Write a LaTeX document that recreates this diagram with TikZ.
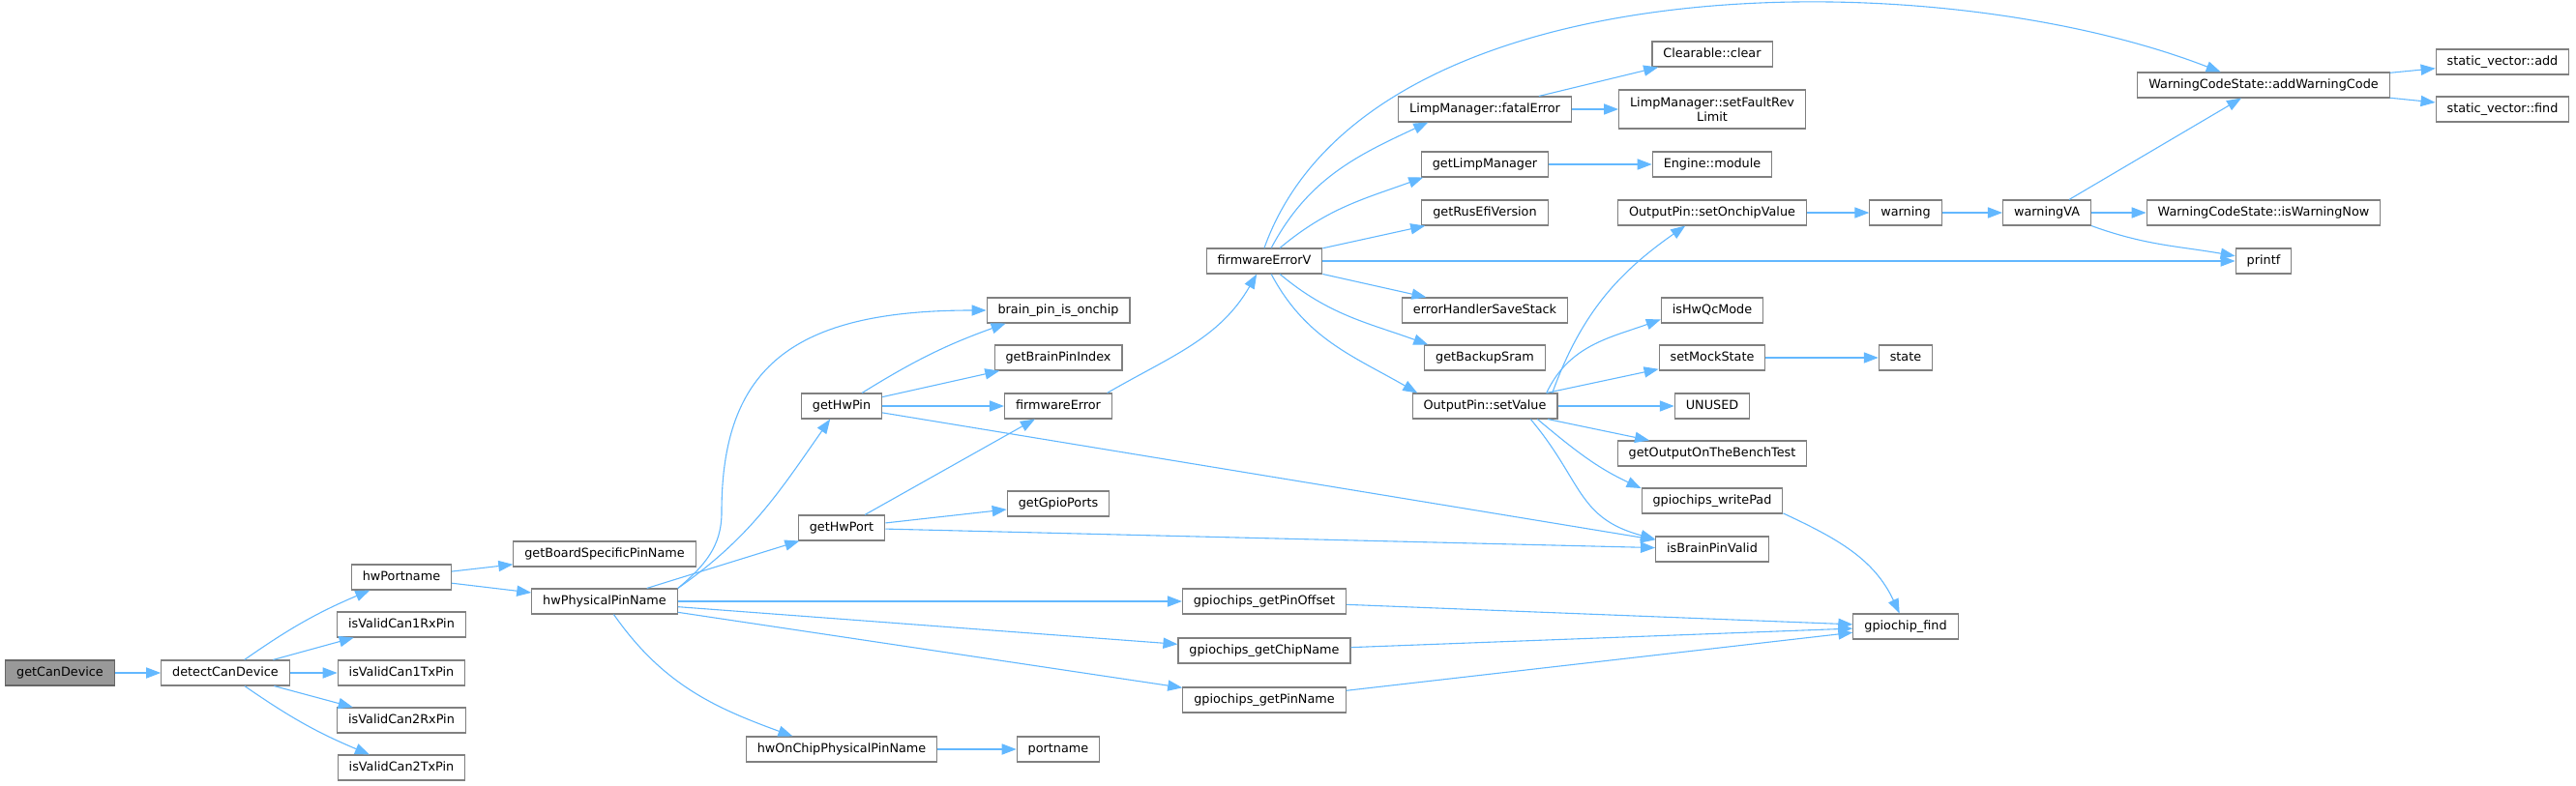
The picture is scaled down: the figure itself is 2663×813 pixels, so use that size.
\documentclass[tikz,border=0pt]{standalone}
\usepackage{fontspec}
\setmainfont{DejaVu Sans}
\usetikzlibrary{arrows.meta}
\definecolor{E}{RGB}{99,184,255}
\definecolor{D}{RGB}{102,102,102}
\definecolor{G}{RGB}{128,128,128}
\definecolor{K}{RGB}{153,153,153}
\tikzstyle{box} = [rectangle, draw=G, fill=white, line width=0.55pt,
inner xsep=5.75pt, inner ysep=0pt, minimum height=13pt,
font=\fontsize{6.4}{7.15}\selectfont]
\tikzstyle{fn} = [box, text height=4.9pt, text depth=1.3pt]
\tikzstyle{call} = [draw=E, line width=0.55pt, -{Triangle[length=7.5pt,width=5.6pt]}]

\begin{document}
\begin{tikzpicture}[x=0.5pt,y=-0.5pt]
\useasboundingbox (0,0) rectangle (2663,813);
% functions, placed by rank (x) and row (y) in pixels
\node[fn,fill=K,draw=D] (getCanDevice) at (62,696) {getCanDevice};
\foreach \n/\x/\y/\lbl in {
  detect/233/696/detectCanDevice,
  hwPortname/415/597/hwPortname,
  can1rx/415/646/isValidCan1RxPin,
  can1tx/415/696/isValidCan1TxPin,
  can2rx/415/745/isValidCan2RxPin,
  can2tx/415/794/isValidCan2TxPin,
  boardPin/625/573/getBoardSpecificPinName,
  hwPhys/625/622/hwPhysicalPinName,
  getHwPin/870/420/getHwPin,
  getHwPort/870/546/getHwPort,
  onChipName/870/775/hwOnChipPhysicalPinName,
  onchip/1094/321/brain\_pin\_is\_onchip,
  pinIndex/1094/370/getBrainPinIndex,
  fwErr/1094/420/firmwareError,
  gpioPorts/1094/521/getGpioPorts,
  portname/1094/775/portname,
  fwErrV/1307/270/firmwareErrorV,
  pinOffset/1307/622/gpiochips\_getPinOffset,
  chipName/1307/673/gpiochips\_getChipName,
  pinName/1307/724/gpiochips\_getPinName,
  fatal/1535/113/LimpManager::fatalError,
  limpMgr/1535/170/getLimpManager,
  version/1535/220/getRusEfiVersion,
  saveStack/1535/321/errorHandlerSaveStack,
  backupSram/1535/370/getBackupSram,
  setValue/1535/420/OutputPin::setValue,
  clear/1770/56/Clearable::clear,
  module/1770/170/Engine::module,
  onchipValue/1770/220/OutputPin::setOnchipValue,
  qcMode/1770/321/isHwQcMode,
  mockState/1770/370/setMockState,
  unused/1770/420/UNUSED,
  benchTest/1770/469/getOutputOnTheBenchTest,
  writePad/1770/518/gpiochips\_writePad,
  pinValid/1770/568/isBrainPinValid,
  warning/1970/220/warning,
  state/1970/370/state,
  chipFind/1970/648/gpiochip\_find,
  warningVA/2116/220/warningVA,
  addCode/2340/88/WarningCodeState::addWarningCode,
  warnNow/2340/220/WarningCodeState::isWarningNow,
  printf/2340/270/printf,
  vecAdd/2587/64/static\_vector::add,
  vecFind/2587/113/static\_vector::find}
  \node[fn] (\n) at (\x,\y) {\lbl};
\node[box,align=center,minimum height=20pt] (revLimit) at (1770,113) {LimpManager::setFaultRev\\Limit};
\coordinate (bend) at (746,530);
% straight calls
\foreach \a/\b in {getCanDevice/detect, detect/can1rx, detect/can1tx, detect/can2rx,
  hwPortname/boardPin, hwPortname/hwPhys, hwPhys/getHwPort, hwPhys/pinOffset,
  hwPhys/chipName, hwPhys/pinName, getHwPin/pinIndex, getHwPin/fwErr,
  getHwPin/pinValid, getHwPort/fwErr, getHwPort/gpioPorts, getHwPort/pinValid,
  fwErrV/version, fwErrV/printf, fwErrV/saveStack, fatal/clear, fatal/revLimit,
  limpMgr/module, onchipValue/warning, warning/warningVA, warningVA/addCode,
  warningVA/warnNow, addCode/vecAdd, addCode/vecFind, setValue/mockState,
  setValue/unused, setValue/benchTest, mockState/state, pinOffset/chipFind,
  chipName/chipFind, pinName/chipFind, onChipName/portname}
  \draw[call] (\a) -- (\b);
% curved calls
\draw[call] (detect) to[bend left=6] (hwPortname);
\draw[call] (detect) to[bend right=6] (can2tx);
\draw[call] (hwPhys.north east) to[out=40,in=-90] (bend)
  .. controls +(0,-150) and +(-200,0) .. (onchip.west);
\draw[call] (hwPhys.north east) to[out=35,in=235] (getHwPin.229);
\draw[call] (hwPhys) to[out=-55,in=160] (onChipName.165);
\draw[call] (getHwPin) to[bend left=6] (onchip.194);
\draw[call] (fwErr.15) to[out=30,in=-120] (fwErrV);
\draw[call] (fwErrV.north) .. controls +(106,-297) and +(-296,-115) .. (addCode.163);
\draw[call] (fwErrV) to[out=62,in=205] (fatal.193);
\draw[call] (fwErrV) to[out=40,in=200] (limpMgr.192);
\draw[call] (fwErrV) to[out=-40,in=160] (backupSram.167);
\draw[call] (fwErrV) to[out=-62,in=150] (setValue.169);
\draw[call] (setValue.11) to[out=70,in=215] (onchipValue.206);
\draw[call] (setValue.12) to[out=65,in=200] (qcMode.190);
\draw[call] (setValue.-14) to[out=-40,in=155] (writePad.170);
\draw[call] (setValue.-16) to[out=-50,in=165,looseness=1.2] (pinValid.170);
\draw[call] (warningVA.south east) to[out=-20,in=170] (printf);
\draw[call] (writePad.-10) to[out=-25,in=115] (chipFind);
\end{tikzpicture}
\end{document}
